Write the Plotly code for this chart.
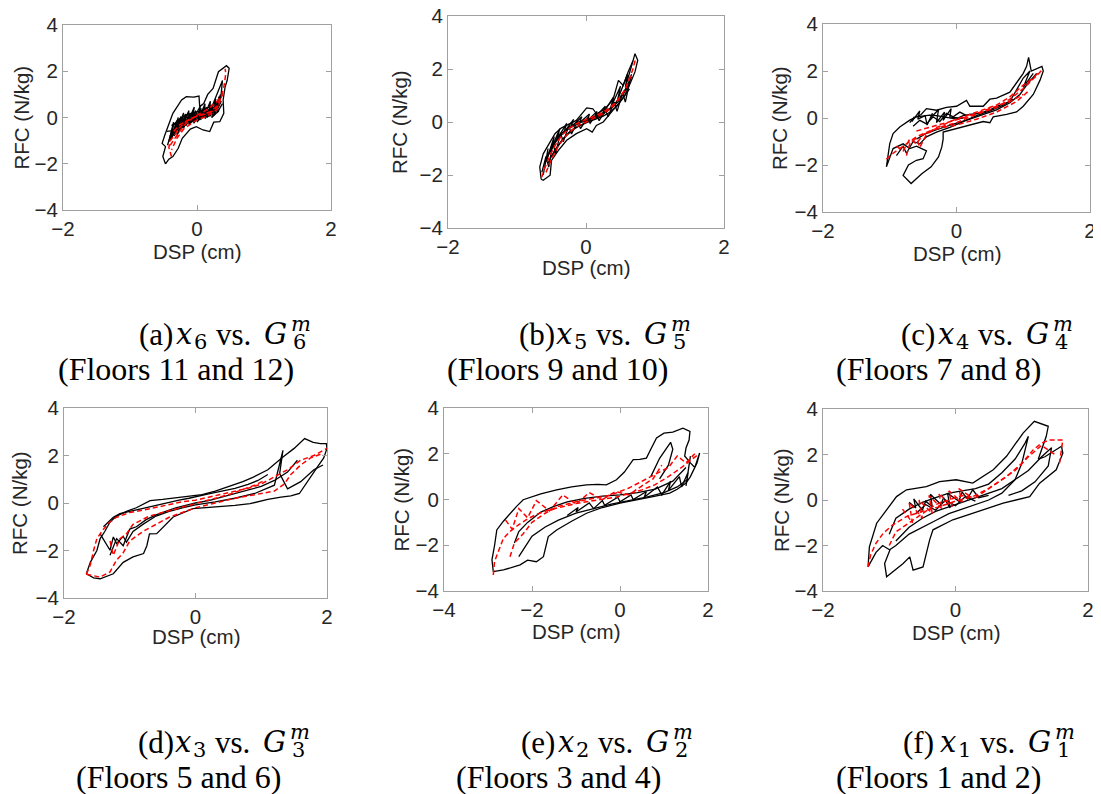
import plotly.graph_objects as go

PAGE_W, PAGE_H = 1101, 794
BODY_MARGIN = 8          # default <body> margin of the written page
W, H = PAGE_W - BODY_MARGIN, PAGE_H - BODY_MARGIN
N = None

# ---------------- data ----------------
# (a) x6 vs G6
a_black_x = [-0.47,-0.51,-0.47,-0.52,-0.48,-0.41,-0.36,-0.23,-0.16,-0.05,0.03,0.04,0.10,0.16,0.20,0.24,0.32,0.38,0.44,0.48,0.45,0.42,0.39,0.40,0.34,0.25,0.19,0.09,-0.01,-0.10,-0.18,-0.22,-0.28,-0.36,-0.42,-0.47, N,
             0.20,0.24,0.30,0.35,0.38,0.36,0.30,0.22,0.20, N,
             -0.42,-0.35,-0.38,-0.28,-0.32,-0.20,-0.25,-0.12,-0.16,-0.04,-0.08,0.05,0.02,0.12,0.10,0.20,0.18,0.28,0.25,0.33,0.30,0.38, N,
             -0.45,-0.30,-0.40,-0.22,-0.30,-0.10,-0.20,0.00,-0.05,0.10,0.05,0.20,0.15,0.30,0.25,0.36, N,
             -0.38,-0.25,-0.35,-0.15,-0.22,-0.05,-0.12,0.08,0.00,0.15,0.12,0.25,0.22,0.33, N,
             -0.44,-0.36,-0.40,-0.30,-0.34,-0.24,-0.27,-0.17,-0.20,-0.10,-0.12,-0.02,-0.05,0.06,0.03,0.14,0.11,0.22,0.19,0.29,0.26,0.35, N,
             -0.40,-0.33,-0.30,-0.24,-0.18,-0.12,-0.06,0.00,0.06,0.12,0.18,0.24,0.30,0.35,0.38, N,
             -0.36,-0.30,-0.26,-0.20,-0.14,-0.08,-0.02,0.04,0.10,0.16,0.22,0.28,0.32,0.36]
a_black_y = [-2.01,-1.69,-1.26,-1.12,-0.76,-0.25,0.18,0.76,0.90,0.88,0.93,0.47,0.60,1.00,1.15,1.26,1.98,2.10,2.24,2.13,1.60,1.33,0.76,0.18,-0.18,-0.20,-0.61,-0.54,-0.40,-0.50,-0.75,-0.90,-1.33,-1.69,-1.80,-2.01, N,
             0.30,0.60,1.00,1.40,1.60,1.00,0.50,0.20,0.30, N,
             -1.05,-0.20,-0.90,0.00,-0.70,0.20,-0.50,0.30,-0.35,0.45,-0.20,0.50,-0.10,0.60,0.00,0.70,0.05,0.80,0.10,0.90,0.20,0.60, N,
             -0.60,-0.55,-0.95,-0.20,-0.75,0.10,-0.40,0.20,-0.25,0.35,-0.10,0.40,0.00,0.50,0.10,0.70, N,
             -0.35,-0.10,-0.60,0.05,-0.45,0.25,-0.30,0.25,-0.20,0.30,-0.05,0.45,0.00,0.30, N,
             -1.20,-0.40,-1.00,-0.15,-0.80,0.05,-0.55,0.15,-0.45,0.20,-0.30,0.30,-0.20,0.40,-0.10,0.45,0.00,0.55,0.05,0.60,0.10,1.00, N,
             -0.80,-0.45,-0.20,-0.05,0.10,0.15,0.20,0.25,0.30,0.35,0.45,0.55,0.65,0.80,1.10, N,
             -0.40,-0.15,-0.05,0.05,0.00,-0.05,0.00,0.05,0.10,0.15,0.20,0.30,0.45,0.70]
a_red_x = [-0.38,-0.42,-0.40,-0.33,-0.28,-0.20,-0.10,0.00,0.10,0.20,0.28,0.35,0.40,0.43,0.42, N,
           -0.40,-0.30,-0.20,-0.10,0.00,0.10,0.20,0.30,0.38,0.30,0.20,0.10,0.00,-0.10,-0.20,-0.30,-0.38, N,
           -0.35,-0.25,-0.15,-0.05,0.05,0.15,0.25,0.33]
a_red_y = [-1.70,-1.30,-1.00,-0.75,-0.50,-0.25,-0.05,0.05,0.15,0.25,0.45,0.80,1.30,1.90,2.10, N,
           -1.20,-0.80,-0.35,-0.10,0.10,0.25,0.45,0.70,1.00,0.35,0.15,0.00,-0.10,-0.30,-0.50,-0.90,-1.40, N,
           -0.60,-0.30,-0.15,0.00,0.10,0.15,0.30,0.55]

# (b) x5 vs G5
b_black_x = [-0.65,-0.67,-0.62,-0.55,-0.45,-0.36,-0.23,-0.14,0.01,0.10,0.15,0.25,0.39,0.47,0.54,0.61,0.68,0.71,0.75,0.71,0.64,0.56,0.47,0.35,0.25,0.15,0.09,0.01,-0.14,-0.28,-0.40,-0.50,-0.52,-0.62,-0.65, N,
             -0.62,-0.55,-0.58,-0.46,-0.50,-0.38,-0.42,-0.28,-0.32,-0.18,-0.22,-0.06,-0.10,0.05,0.02,0.16,0.12,0.28,0.24,0.40,0.36,0.50,0.46,0.60,0.57,0.68, N,
             -0.60,-0.50,-0.40,-0.30,-0.20,-0.10,0.00,0.10,0.20,0.30,0.40,0.50,0.60,0.66, N,
             -0.55,-0.45,-0.35,-0.25,-0.15,-0.05,0.05,0.15,0.25,0.35,0.45,0.55,0.63, N,
             -0.64,-0.58,-0.54,-0.48,-0.44,-0.37,-0.33,-0.25,-0.21,-0.12,-0.08,0.02,0.06,0.15,0.19,0.28,0.32,0.41,0.45,0.53,0.57,0.64, N,
             -0.58,-0.52,-0.45,-0.38,-0.30,-0.22,-0.14,-0.06,0.02,0.10,0.18,0.26,0.34,0.42,0.50,0.58,0.66, N,
             -0.50,-0.42,-0.34,-0.26,-0.18,-0.10,-0.02,0.06,0.14,0.22,0.30,0.38,0.46,0.54,0.62]
b_black_y = [-2.16,-1.70,-1.20,-0.88,-0.44,-0.23,-0.06,0.06,0.53,0.50,0.31,0.44,0.82,1.57,1.38,1.89,2.30,2.58,2.33,1.89,1.45,1.00,0.69,0.31,0.00,-0.13,-0.38,-0.25,-0.44,-0.69,-1.07,-1.45,-2.01,-2.20,-2.16, N,
             -2.00,-1.00,-1.50,-0.55,-1.00,-0.25,-0.65,-0.05,-0.40,0.10,-0.20,0.20,-0.05,0.30,0.05,0.40,0.15,0.60,0.30,0.95,0.55,1.35,0.85,1.80,1.30,2.30, N,
             -1.60,-0.95,-0.55,-0.30,-0.12,0.00,0.08,0.15,0.28,0.40,0.60,0.95,1.35,1.80, N,
             -1.55,-1.05,-0.70,-0.40,-0.20,-0.08,0.02,0.12,0.22,0.38,0.60,0.95,1.25, N,
             -1.90,-1.30,-1.70,-0.80,-1.20,-0.40,-0.75,-0.15,-0.45,0.05,-0.25,0.15,-0.05,0.30,0.05,0.45,0.20,0.75,0.40,1.10,0.75,1.60, N,
             -1.40,-1.10,-0.80,-0.55,-0.35,-0.20,-0.10,0.00,0.05,0.15,0.25,0.35,0.50,0.70,0.95,1.25,1.70, N,
             -1.30,-0.95,-0.65,-0.45,-0.28,-0.15,-0.05,0.05,0.15,0.25,0.40,0.55,0.75,1.05,1.40]
b_red_x = [-0.64,-0.60,-0.52,-0.44,-0.35,-0.25,-0.15,-0.05,0.05,0.15,0.25,0.35,0.45,0.55,0.62,0.68,0.72, N,
           -0.58,-0.50,-0.40,-0.30,-0.20,-0.10,0.00,0.10,0.20,0.30,0.40,0.50,0.58,0.64]
b_red_y = [-2.08,-1.75,-1.25,-0.85,-0.50,-0.25,-0.08,0.05,0.15,0.25,0.38,0.55,0.80,1.15,1.55,2.00,2.39, N,
           -1.90,-1.40,-0.90,-0.55,-0.30,-0.12,0.00,0.12,0.25,0.40,0.62,0.95,1.30,1.70]

# (c) x4 vs G4
c_black_x = [-1.05,-1.03,-1.00,-0.95,-0.85,-0.70,-0.53,-0.45,-0.30,-0.15,0.00,0.15,0.20,0.40,0.50,0.60,0.80,0.90,1.00,1.05,1.08,1.12,1.20,1.28,1.30,1.25,1.15,1.00,0.90,0.75,0.55,0.50,0.40,0.20,0.00,-0.20,-0.20,-0.22,-0.27,-0.38,-0.52,-0.68,-0.80,-0.72,-0.60,-0.50,-0.45,-0.60,-0.70,-0.80,-0.95,-1.05, N,
             -0.70,-0.63,-0.67,-0.55,-0.58,-0.47,-0.44,-0.36,-0.39,-0.27,-0.30,-0.18,-0.20,-0.08,-0.10,0.02,0.10,0.20,0.35,0.50,0.65,0.80,0.90,1.00,1.10,1.00,1.15, N,
             -0.65,-0.55,-0.45,-0.35,-0.25,-0.15,-0.05,0.05,0.15, N,
             -0.60,-0.45,-0.30,-0.15,0.00,0.20,0.40,0.60,0.80,0.95,1.05,1.20, N,
             -0.90,-0.80,-0.75,-0.65,-0.55,-0.45,-0.30,-0.10,0.10,0.30,0.50,0.70,0.85, N,
             -0.60,-0.50,-0.40,-0.30,-0.20,-0.10,0.00,0.10]
c_black_y = [-2.08,-1.66,-1.09,-0.66,-0.38,-0.09,0.15,0.40,0.33,0.45,0.50,0.75,0.50,0.50,0.80,0.85,1.10,1.50,1.90,2.20,2.58,2.00,2.10,2.20,2.00,1.60,1.00,0.50,0.26,0.15,0.05,-0.20,-0.15,-0.30,-0.45,-0.60,-0.90,-1.23,-1.66,-2.08,-2.37,-2.79,-2.44,-2.00,-1.80,-1.73,-1.40,-1.20,-1.30,-1.10,-1.30,-2.08, N,
             -0.20,0.05,-0.15,0.30,-0.05,0.10,-0.30,0.20,0.00,0.35,-0.20,0.25,-0.10,0.40,0.05,0.00,0.10,0.15,0.20,0.35,0.55,0.70,1.20,1.70,2.00,1.30,1.90, N,
             -0.35,-0.10,-0.25,0.05,-0.15,0.20,0.05,0.25,0.10, N,
             -0.90,-0.65,-0.50,-0.35,-0.22,-0.05,0.15,0.35,0.65,1.00,1.40,1.90, N,
             -1.60,-1.20,-1.50,-1.00,-1.10,-0.80,-0.60,-0.40,-0.15,0.10,0.30,0.55,0.80, N,
             0.05,0.10,0.12,0.10,0.05,0.00,-0.05,0.00]
c_red_x = [-1.05,-0.95,-0.80,-0.60,-0.40,-0.20,0.00,0.20,0.40,0.60,0.80,1.00,1.20,1.30, N,
           -0.90,-0.80,-0.70,-0.60,-0.50,-0.40,-0.30,-0.20,-0.10,0.00,0.20,0.40,0.60,0.80,1.00,1.15,1.25, N,
           -0.75,-0.70,-0.60,-0.55,-0.45,-0.35,-0.20,0.00,0.30,0.60,0.90,1.10, N,
           -0.60,-0.40,-0.20,0.00,0.20,0.40,0.60,0.80,1.00]
c_red_y = [-1.75,-1.50,-1.20,-0.80,-0.55,-0.35,-0.20,0.05,0.25,0.45,0.80,1.25,1.80,2.10, N,
           -1.20,-1.40,-0.90,-1.10,-0.70,-0.60,-0.40,-0.30,-0.15,-0.05,0.15,0.35,0.55,0.90,1.40,1.70,2.00, N,
           -1.60,-1.10,-0.85,-1.25,-0.70,-0.50,-0.40,-0.30,-0.05,0.25,0.70,1.20, N,
           -0.55,-0.40,-0.22,-0.08,0.10,0.30,0.50,0.70,1.00]

# (d) x3 vs G3
d_black_x = [-1.66,-1.60,-1.50,-1.45,-1.38,-1.30,-1.20,-1.05,-0.90,-0.69,-0.50,-0.19,0.10,0.30,0.57,0.72,0.88,1.10,1.33,1.50,1.66,1.79,1.90,1.99,2.00,1.95,1.85,1.75,1.58,1.45,1.30,1.10,0.83,0.60,0.32,-0.04,-0.34,-0.59,-0.70,-0.74,-0.79,-0.95,-1.10,-1.25,-1.45,-1.55,-1.66, N,
             -1.45,-1.30,-1.25,-1.20,-1.10,-1.05,-0.95,-0.80,-0.60,-0.40,-0.20,0.00,0.30,0.60,0.90,1.20,1.33,1.28,1.40,1.60,1.80,1.94, N,
             -1.30,-1.20,-1.10,-1.00,-0.90,-0.75,-0.60,-0.45,-0.30,-0.15,0.00,0.20,0.40,0.60,0.80,1.00,1.20,1.40,1.55, N,
             -1.40,-1.25,-1.15,-1.00,-0.85,-0.70,-0.55,-0.40,-0.25,-0.10,0.05,0.20,0.40,0.60,0.80,0.95,1.10]
d_black_y = [-2.98,-2.50,-2.00,-1.50,-1.20,-0.80,-0.55,-0.35,-0.20,0.10,0.15,0.25,0.35,0.50,0.74,0.90,1.09,1.40,1.94,2.30,2.71,2.55,2.50,2.50,2.30,1.90,1.50,1.10,0.40,0.30,0.25,0.15,-0.03,-0.10,-0.17,-0.24,-0.59,-1.29,-1.30,-1.80,-2.13,-2.27,-2.50,-2.98,-3.19,-3.15,-2.98, N,
             -1.30,-1.99,-1.43,-1.71,-1.40,-1.65,-1.20,-0.90,-0.55,-0.35,-0.20,-0.08,0.05,0.20,0.40,0.75,2.22,1.24,0.60,0.90,1.40,1.60, N,
             -2.20,-1.50,-1.80,-1.10,-1.00,-0.70,-0.50,-0.35,-0.20,-0.10,0.00,0.10,0.25,0.40,0.55,0.70,0.95,1.30,1.80, N,
             -1.00,-0.60,-0.45,-0.35,-0.25,-0.15,-0.05,0.05,0.12,0.20,0.28,0.38,0.50,0.62,0.78,0.95,1.20]
d_red_x = [-1.66,-1.60,-1.55,-1.50,-1.40,-1.30,-1.20,-1.00,-0.80,-0.60,-0.40,-0.20,0.00,0.20,0.40,0.60,0.80,1.00,1.20,1.40,1.60,1.80,2.00, N,
           -1.66,-1.45,-1.30,-1.20,-1.10,-1.00,-0.80,-0.60,-0.40,-0.20,0.00,0.30,0.60,0.90,1.20,1.35,1.45,1.60,1.75,1.90, N,
           -1.30,-1.25,-1.15,-1.05,-0.95,-0.85,-0.70,-0.50,-0.30,-0.10,0.10,0.30,0.50,0.70,0.90,1.05]
d_red_y = [-3.00,-2.60,-2.00,-1.50,-1.10,-0.80,-0.60,-0.40,-0.30,-0.18,-0.08,0.05,0.12,0.25,0.38,0.50,0.62,0.80,1.10,1.40,1.80,2.00,2.30, N,
           -3.00,-3.12,-2.90,-2.40,-2.10,-1.60,-1.20,-0.90,-0.60,-0.40,-0.20,0.00,0.20,0.35,0.50,0.80,1.20,1.60,1.90,2.05, N,
           -1.60,-2.20,-1.50,-1.30,-0.90,-0.75,-0.55,-0.40,-0.25,-0.10,0.05,0.20,0.35,0.55,0.75,0.95]

# (e) x2 vs G2
e_black_x = [-2.88,-2.91,-2.85,-2.80,-2.65,-2.50,-2.35,-2.20,-1.80,-1.44,-1.10,-0.76,-0.50,-0.31,-0.08,0.10,0.30,0.45,0.60,0.70,0.83,1.00,1.20,1.43,1.59,1.57,1.50,1.47,1.55,1.60,1.70,1.81,1.75,1.60,1.50,1.30,1.13,0.75,0.40,0.00,-0.40,-0.76,-1.10,-1.44,-1.63,-1.74,-1.90,-2.10,-2.27,-2.65,-2.88, N,
             -2.40,-2.30,-2.10,-1.80,-1.50,-1.20,-0.80,-0.40,0.00,0.40,0.80,1.20,1.50, N,
             -2.30,-2.20,-2.00,-1.70,-1.40,-1.00,-0.60,-0.20,0.20,0.60,1.00,1.30,1.55, N,
             0.70,0.90,1.15,1.20,1.10,0.90, N,
             -1.20,-0.95,-1.00,-0.70,-0.60,-0.40,-0.35,-0.05,0.00,0.25,0.30,0.60,0.55,0.85,0.95,1.15,1.10,1.35,1.40,1.55,1.50,1.60]
e_black_y = [-3.15,-2.64,-2.00,-1.33,-0.95,-0.60,-0.30,-0.01,0.25,0.42,0.55,0.64,0.66,0.64,0.86,1.20,1.74,1.75,1.81,2.20,2.69,2.90,2.95,3.12,2.98,2.60,2.25,1.90,1.70,1.60,1.40,2.03,1.60,1.00,0.72,0.45,0.28,0.13,0.00,-0.16,-0.35,-0.60,-0.95,-1.33,-1.62,-2.50,-2.72,-2.65,-2.86,-3.08,-3.15, N,
             -1.90,-1.40,-1.00,-0.55,-0.30,-0.10,0.05,0.15,0.20,0.30,0.45,0.80,1.40, N,
             -2.50,-2.20,-1.60,-1.20,-0.90,-0.60,-0.40,-0.20,-0.05,0.10,0.30,0.55,0.90, N,
             1.00,1.80,2.50,2.20,1.50,0.90, N,
             -0.70,-0.35,-0.55,-0.15,-0.40,-0.05,-0.25,0.10,-0.10,0.20,0.00,0.35,0.10,0.55,0.20,0.80,0.40,1.00,0.55,1.20,0.60,1.90]
e_red_x = [-2.88,-2.85,-2.75,-2.65,-2.50,-2.30,-2.10,-1.90,-1.60,-1.30,-1.00,-0.70,-0.40,-0.10,0.20,0.50,0.80,1.10,1.40,1.60,1.77, N,
           -2.50,-2.40,-2.20,-2.00,-1.70,-1.40,-1.00,-0.60,-0.20,0.20,0.50,0.80,1.10,1.30,1.50,1.70, N,
           -2.60,-2.45,-2.30,-2.10,-1.90,-1.60,-1.30,-1.00,-0.70,-0.40,-0.10,0.20,0.50,0.75,0.95]
e_red_y = [-3.30,-2.70,-2.20,-1.70,-1.40,-1.10,-0.85,-0.65,-0.45,-0.30,-0.18,-0.08,0.00,0.10,0.25,0.42,0.65,1.00,1.40,1.70,1.96, N,
           -2.50,-1.90,-1.50,-1.00,-0.60,-0.30,-0.10,0.05,0.20,0.50,0.80,1.10,1.40,1.90,1.60,2.00, N,
           -0.90,-1.30,-0.40,-0.80,-0.05,-0.50,0.20,-0.20,0.30,0.00,0.35,0.20,0.60,0.90,1.50]

# (f) x1 vs G1
f_black_x = [-1.32,-1.30,-1.19,-1.04,-0.89,-0.74,-0.44,-0.24,0.01,0.26,0.57,0.77,1.02,1.19,1.40,1.37,1.30,1.25,1.35,1.50,1.60,1.62,1.52,1.27,1.12,0.72,0.26,-0.04,-0.34,-0.39,-0.49,-0.64,-0.69,-0.79,-1.04,-1.07,-0.99,-1.10,-1.20,-1.32, N,
             -1.00,-0.90,-0.70,-0.50,-0.30,-0.10,0.10,0.30,0.50,0.70,0.90,1.05,1.10,1.00,0.90,0.70,0.50,0.30,0.10,-0.10,-0.30,-0.50,-0.70,-0.90,-1.00, N,
             -0.90,-0.70,-0.50,-0.30,-0.10,0.10,0.30,0.50,0.70,0.90,1.10,1.30,1.45,1.40,1.20,1.00,0.80, N,
             -0.70,-0.60,-0.63,-0.50,-0.45,-0.35,-0.38,-0.22,-0.18,-0.08,-0.12,0.05,0.10,0.18,0.26,0.35,0.50, N,
             -0.60,-0.45,-0.30,-0.15,0.00,0.15,0.30]
f_black_y = [-2.94,-2.06,-1.02,-0.43,0.15,0.45,0.59,0.81,0.89,0.74,1.33,1.92,2.94,3.46,3.24,2.80,2.20,1.80,1.90,2.20,2.36,2.06,1.33,0.74,0.15,-0.14,-0.58,-0.87,-1.31,-1.75,-2.94,-3.08,-2.50,-2.79,-3.37,-2.79,-2.20,-2.00,-2.30,-2.94, N,
             -1.50,-0.80,-0.40,-0.10,0.10,0.30,0.40,0.50,0.70,1.20,1.80,2.50,2.80,1.60,0.90,0.30,0.00,-0.20,-0.40,-0.60,-0.90,-1.20,-1.50,-2.00,-2.20, N,
             -1.80,-1.20,-0.80,-0.50,-0.30,-0.10,0.10,0.30,0.50,0.90,1.30,1.90,2.30,1.50,0.80,0.40,0.20, N,
             -0.10,-0.35,0.05,-0.45,-0.05,-0.30,0.25,-0.20,0.10,-0.35,0.30,-0.05,0.35,0.05,0.45,0.10,0.20, N,
             -0.60,-0.20,-0.45,0.00,-0.25,0.15,-0.05]
f_red_x = [-1.32,-1.28,-1.20,-1.09,-0.95,-0.74,-0.50,-0.24,0.00,0.26,0.50,0.77,1.00,1.17,1.30,1.42,1.62,1.60,1.57, N,
           -1.00,-0.90,-0.70,-0.50,-0.30,-0.10,0.10,0.30,0.50,0.70,0.90,1.10,1.30,1.50, N,
           -0.80,-0.65,-0.70,-0.50,-0.55,-0.35,-0.40,-0.20,-0.25,-0.05,-0.10,0.10,0.05,0.25]
f_red_y = [-2.94,-2.40,-1.90,-1.46,-1.10,-0.73,-0.50,-0.29,-0.05,0.15,0.50,1.03,1.60,2.20,2.50,2.64,2.64,2.20,1.62, N,
           -2.00,-1.40,-1.00,-0.60,-0.20,0.00,0.20,0.10,0.50,0.90,1.30,1.90,2.40,2.00, N,
           -0.40,-1.00,-0.10,-0.80,0.00,-0.60,0.20,-0.40,0.30,-0.30,0.40,-0.10,0.50,0.10]

# ---------------- labels ----------------
x_ticks_main = [-2, 0, 2]
x_ticks_e = [-4, -2, 0, 2]
y_ticks = [-4, -2, 0, 2, 4]
x_title = "DSP (cm)"
y_title = "RFC (N/kg)"
cap_letters = ["(a)", "(b)", "(c)", "(d)", "(e)", "(f)"]
cap_index = ["6", "5", "4", "3", "2", "1"]
cap_floors = ["(Floors 11 and 12)", "(Floors 9 and 10)", "(Floors 7 and 8)",
              "(Floors 5 and 6)", "(Floors 3 and 4)", "(Floors 1 and 2)"]

# ---------------- layout geometry (page pixels) ----------------
panels = [
    dict(box=(63, 331, 25, 210), xr=[-2, 2], xt=x_ticks_main, ytx=21, xty=251, bx=a_black_x, by=a_black_y, rx=a_red_x, ry=a_red_y),
    dict(box=(448, 724, 16, 228), xr=[-2, 2], xt=x_ticks_main, ytx=399, xty=268, bx=b_black_x, by=b_black_y, rx=b_red_x, ry=b_red_y),
    dict(box=(823, 1090, 24, 212), xr=[-2, 2], xt=x_ticks_main, ytx=780, xty=253, bx=c_black_x, by=c_black_y, rx=c_red_x, ry=c_red_y),
    dict(box=(64, 327, 408, 598), xr=[-2, 2], xt=x_ticks_main, ytx=19, xty=636, bx=d_black_x, by=d_black_y, rx=d_red_x, ry=d_red_y),
    dict(box=(444, 708, 408, 591), xr=[-4, 2], xt=x_ticks_e, ytx=401, xty=631, bx=e_black_x, by=e_black_y, rx=e_red_x, ry=e_red_y),
    dict(box=(823, 1088, 409, 591), xr=[-2, 2], xt=x_ticks_main, ytx=781, xty=632, bx=f_black_x, by=f_black_y, rx=f_red_x, ry=f_red_y),
]
# caption positions: (first line left, first line centre y, floors left, floors centre y)
captions = [
    (138, 334, 57, 369), (518, 334, 446, 369), (900, 334, 835, 369),
    (137, 742, 75, 777), (520, 742, 455, 777), (902, 742, 835, 777),
]

def px(x):
    return (x - BODY_MARGIN) / W

def py(y):
    return 1 - (y - BODY_MARGIN) / H

AX_COL = "#a0a0a0"
TXT_COL = "#262626"
SANS = "Liberation Sans, Arial, sans-serif"
SERIF = "Liberation Serif, Times New Roman, serif"
MATH = "DejaVu Serif, serif"

fig = go.Figure()
layout = dict(template="none", width=W, height=H,
              margin=dict(l=0, r=0, t=0, b=0, pad=0, autoexpand=False),
              paper_bgcolor="white", plot_bgcolor="white", showlegend=False)
annotations = []

def note(text, x, y, size, family, xanchor="left", angle=0, color="black"):
    annotations.append(dict(text=text, x=px(x), y=py(y), xref="paper", yref="paper",
                            showarrow=False, xanchor=xanchor, yanchor="middle",
                            textangle=angle, borderpad=0,
                            font=dict(family=family, size=size, color=color)))

for i, p in enumerate(panels):
    n = "" if i == 0 else str(i + 1)
    x0, x1, y0, y1 = p["box"]
    common = dict(showline=True, linecolor=AX_COL, linewidth=1, mirror="ticks",
                  ticks="inside", ticklen=5, tickcolor=AX_COL, tickwidth=1,
                  showgrid=False, zeroline=False, automargin=False,
                  ticklabeloverflow="allow",
                  tickfont=dict(family=SANS, size=20.5, color=TXT_COL))
    layout["xaxis" + n] = dict(common, domain=[px(x0), px(x1)], range=p["xr"],
                               tickvals=p["xt"], anchor="y" + n)
    layout["yaxis" + n] = dict(common, domain=[py(y1), py(y0)], range=[-4, 4],
                               tickvals=y_ticks, anchor="x" + n)
    fig.add_trace(go.Scatter(x=p["bx"], y=p["by"], mode="lines",
                             line=dict(color="black", width=1.3),
                             connectgaps=False, xaxis="x" + n, yaxis="y" + n,
                             hoverinfo="skip"))
    fig.add_trace(go.Scatter(x=p["rx"], y=p["ry"], mode="lines",
                             line=dict(color="#ff0000", width=1.5, dash="5px,3px"),
                             connectgaps=False, xaxis="x" + n, yaxis="y" + n,
                             hoverinfo="skip"))
    # axis titles
    note(x_title, (x0 + x1) / 2, p["xty"], 20.5, SANS, "center", 0, TXT_COL)
    note(y_title, p["ytx"], (y0 + y1) / 2, 20.5, SANS, "center", -90, TXT_COL)
    # captions, placed piece by piece
    cx, cy, fl, fy = captions[i]
    k = cap_index[i]
    note(cap_letters[i], cx, cy, 31, SERIF)
    note("<i>x</i>", cx + 37, cy, 29, MATH)
    note(k, cx + 55, cy + 8, 21, MATH)
    note("vs.", cx + 77, cy, 31, SERIF)
    note("<i>G</i>", cx + 125, cy, 29, MATH)
    note(k, cx + 154, cy + 8, 21, MATH)
    note("<i>m</i>", cx + 152, cy - 10, 21, MATH)
    note(cap_floors[i], fl, fy, 32, SERIF)

layout["annotations"] = annotations
fig.update_layout(**layout)
fig.write_html("out.html")
